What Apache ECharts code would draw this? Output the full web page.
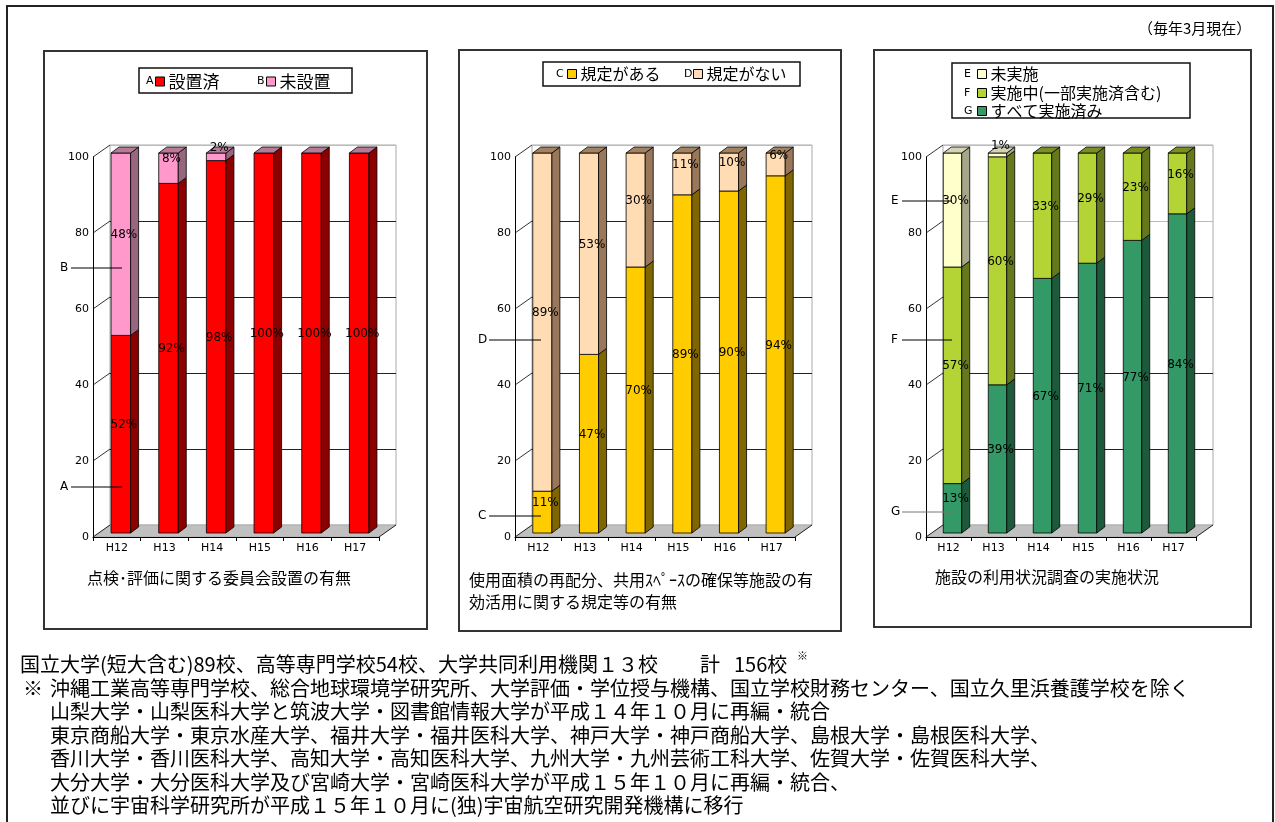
<!DOCTYPE html>
<html>
<head>
<meta charset="utf-8">
<script src="https://cdn.jsdelivr.net/npm/echarts@6/dist/echarts.min.js"></script>
<style>
  html, body { margin: 0; padding: 0; background: #fff; }
  #main { width: 1275px; height: 822px; }
</style>
</head>
<body>
<div id="main"></div>
<script>
// 年度（横軸）と目盛
var years = ['H12', 'H13', 'H14', 'H15', 'H16', 'H17'];
var yTicks = [0, 20, 40, 60, 80, 100];

// 点検・評価に関する委員会設置の有無
var setUp = [52, 92, 98, 100, 100, 100];      // A 設置済
var notSetUp = [48, 8, 2, 0, 0, 0];           // B 未設置

// 使用面積の再配分…規定等の有無
var hasRule = [11, 47, 70, 89, 90, 94];       // C 規定がある
var noRule = [89, 53, 30, 11, 10, 6];         // D 規定がない

// 施設の利用状況調査の実施状況
var allDone = [13, 39, 67, 71, 77, 84];       // G すべて実施済み
var inProgress = [57, 60, 33, 29, 23, 16];    // F 実施中(一部実施済含む)
var notDone = [30, 1, null, null, null, null];// E 未実施

var footLines = [
  '国立大学(短大含む)89校、高等専門学校54校、大学共同利用機関１３校',
  '沖縄工業高等専門学校、総合地球環境学研究所、大学評価・学位授与機構、国立学校財務センター、国立久里浜養護学校を除く',
  '山梨大学・山梨医科大学と筑波大学・図書館情報大学が平成１４年１０月に再編・統合',
  '東京商船大学・東京水産大学、福井大学・福井医科大学、神戸大学・神戸商船大学、島根大学・島根医科大学、',
  '香川大学・香川医科大学、高知大学・高知医科大学、九州大学・九州芸術工科大学、佐賀大学・佐賀医科大学、',
  '大分大学・大分医科大学及び宮崎大学・宮崎医科大学が平成１５年１０月に再編・統合、',
  '並びに宇宙科学研究所が平成１５年１０月に(独)宇宙航空研究開発機構に移行'
];

var FONT = '"Noto Sans CJK JP", sans-serif';
var NUMFONT = '"DejaVu Sans", sans-serif';
var TOP = 157, H = 380;         // 前面の軸
var DX = 17, DY = -12;          // 奥の壁までのずれ
var OFF = 4, BDX = 8, BDY = -6; // 棒の位置ずれと厚み

var panels = [
  {
    left: 93, width: 286, frame: [44, 51, 383, 578], legendSize: 17,
    split: ['#777', '#222', '#222', '#222', '#222', '#bbb'],
    series: [
      {name: '設置済', letter: 'A', data: setUp, color: '#ff0000', side: '#8c0000', top: '#a00000'},
      {name: '未設置', letter: 'B', data: notSetUp, color: '#ff99cc', side: '#99667f', top: '#b77a99'}
    ],
    box: [139, 68, 213, 25],
    legendAt: [[146, 155, 81], [257, 266, 81]],
    callouts: [['B', 60, 268, 122], ['A', 60, 487, 122]],
    title: ['点検･評価に関する委員会設置の有無'], titleAt: [87, 578]
  },
  {
    left: 515, width: 280, frame: [459, 50, 382, 581], legendSize: 16,
    split: ['#777', '#222', '#222', '#222', '#222', '#bbb'],
    series: [
      {name: '規定がある', letter: 'C', data: hasRule, color: '#ffcc00', side: '#806600', top: '#997a00'},
      {name: '規定がない', letter: 'D', data: noRule, color: '#ffdcb4', side: '#99775a', top: '#a5825f'}
    ],
    box: [543, 62, 257, 24],
    legendAt: [[556, 567, 74], [684, 693, 74]],
    callouts: [['D', 478, 340, 541], ['C', 478, 516, 541]],
    title: ['使用面積の再配分、共用ｽﾍﾟｰｽの確保等施設の有', '効活用に関する規定等の有無'], titleAt: [469, 580]
  },
  {
    left: 926, width: 270, frame: [874, 50, 377, 577], legendSize: 16,
    split: ['#777', '#222', '#222', '#222', '#bbb', '#bbb'],
    series: [
      {name: 'すべて実施済み', letter: 'G', data: allDone, color: '#339966', side: '#1d5a3b', top: '#24704a'},
      {name: '実施中(一部実施済含む)', letter: 'F', data: inProgress, color: '#b4d334', side: '#66781c', top: '#7a8f22'},
      {name: '未実施', letter: 'E', data: notDone, color: '#ffffcc', side: '#a6a68a', top: '#d4d4b0'}
    ],
    box: [952, 63, 238, 55],
    legendAt: [[964, 977, 111], [964, 977, 93], [964, 977, 74]],
    callouts: [['E', 891, 201, 952], ['F', 891, 340, 952], ['G', 891, 512, 952]],
    title: ['施設の利用状況調査の実施状況'], titleAt: [935, 577]
  }
];

function renderBar(s) {
  return function (params, api) {
    var v = api.value(3);
    if (v < 0) return null;
    var p0 = api.coord([api.value(0), api.value(1)]);
    var p1 = api.coord([api.value(0), api.value(2)]);
    var w = api.size([1, 0])[0] * 0.41;
    var x0 = p0[0] - w / 2 + OFF, x1 = x0 + w;
    var yb = p0[1] - OFF, yt = p1[1] - OFF;
    var kids = [];
    if (yb - yt > 0) {
      kids.push({type: 'rect', shape: {x: x0, y: yt, width: w, height: yb - yt},
        style: {fill: s.color, stroke: '#000', lineWidth: 0.8}});
      kids.push({type: 'polygon', shape: {points: [[x1, yb], [x1, yt], [x1 + BDX, yt + BDY], [x1 + BDX, yb + BDY]]},
        style: {fill: s.side, stroke: '#000', lineWidth: 0.8}});
    }
    if (api.value(4)) {
      kids.push({type: 'polygon', shape: {points: [[x0, yt], [x1, yt], [x1 + BDX, yt + BDY], [x0 + BDX, yt + BDY]]},
        style: {fill: s.top, stroke: '#000', lineWidth: 0.8}});
    }
    if (v > 0) {
      kids.push({type: 'text', z2: 20, x: (x0 + x1) / 2 + 3, y: (yb + yt) / 2 - 9,
        style: {text: v + '%', font: '12px ' + NUMFONT, fill: '#000', textAlign: 'center', textVerticalAlign: 'middle'}});
    }
    return {type: 'group', children: kids};
  };
}

var grids = [], xAxes = [], yAxes = [], series = [], legends = [], graphics = [];

// 外枠と注記
graphics.push({type: 'rect', z: 0, shape: {x: 7, y: 6, width: 1266, height: 840},
  style: {fill: 'none', stroke: '#222', lineWidth: 2}});
graphics.push({type: 'text', z: 5, x: 1138, y: 28,
  style: {text: '（毎年3月現在）', font: '15px ' + FONT, fill: '#000', textVerticalAlign: 'middle'}});

panels.forEach(function (p, i) {
  var gi = grids.length;
  // 前面
  grids.push({left: p.left, top: TOP, width: p.width, height: H});
  // 奥の壁
  grids.push({left: p.left + DX, top: TOP + DY, width: p.width, height: H,
    show: true, borderColor: '#aaa', borderWidth: 1, backgroundColor: 'transparent'});

  xAxes.push({gridIndex: gi, type: 'category', data: years, z: 6,
    axisLine: {lineStyle: {color: '#000', width: 1}},
    axisTick: {show: true, length: 4, lineStyle: {color: '#000'}},
    axisLabel: {fontFamily: NUMFONT, fontSize: 11, color: '#000', margin: 6}});
  xAxes.push({gridIndex: gi + 1, type: 'category', data: years, show: false});

  yAxes.push({gridIndex: gi, type: 'value', min: 0, max: 100, interval: 20, z: 6,
    axisLine: {show: true, lineStyle: {color: '#000', width: 1}},
    axisTick: {show: false},
    splitLine: {show: false},
    axisLabel: {fontFamily: NUMFONT, fontSize: 11, color: '#000', margin: 4}});
  yAxes.push({gridIndex: gi + 1, type: 'value', min: 0, max: 100, interval: 20,
    axisLine: {show: false}, axisTick: {show: false}, axisLabel: {show: false},
    splitLine: {show: true, lineStyle: {color: p.split, width: 1}}});

  // 積み上げ
  var base = years.map(function () { return 0; });
  var lastIdx = years.map(function (y, j) {
    var k = -1;
    p.series.forEach(function (s, n) { if (s.data[j] != null) k = n; });
    return k;
  });
  p.series.forEach(function (s, k) {
    var items = s.data.map(function (v, j) {
      var lo = base[j];
      var hi = v == null ? lo : lo + v;
      base[j] = hi;
      return [j, lo, hi, v == null ? -1 : v, lastIdx[j] === k ? 1 : 0];
    });
    series.push({
      type: 'custom', name: s.name, xAxisIndex: gi, yAxisIndex: gi, z: 3,
      itemStyle: {color: s.color},
      renderItem: renderBar(s),
      data: items
    });
  });

  // 凡例
  p.series.forEach(function (s, k) {
    var at = p.legendAt[k];
    legends.push({
      data: [s.name], left: at[1], top: at[2] - 8, padding: 0, icon: 'rect',
      itemWidth: 9, itemHeight: 9, selectedMode: false,
      itemStyle: {borderColor: '#000', borderWidth: 1},
      textStyle: {fontFamily: FONT, fontSize: p.legendSize, lineHeight: 16, color: '#000', padding: [0, 0, 0, -1]}
    });
    graphics.push({type: 'text', z: 5, x: at[0], y: at[2],
      style: {text: s.letter, font: '11px ' + NUMFONT, fill: '#000', textVerticalAlign: 'middle'}});
  });
  graphics.push({type: 'rect', z: 1, shape: {x: p.box[0], y: p.box[1], width: p.box[2], height: p.box[3]},
    style: {fill: 'none', stroke: '#111', lineWidth: 1.5}});

  // パネル枠
  graphics.push({type: 'rect', z: 0, shape: {x: p.frame[0], y: p.frame[1], width: p.frame[2], height: p.frame[3]},
    style: {fill: 'none', stroke: '#333', lineWidth: 2}});

  // 床
  var yF = TOP + H, xL = p.left, xR = p.left + p.width;
  graphics.push({type: 'polygon', z: 1,
    shape: {points: [[xL, yF], [xR, yF], [xR + DX, yF + DY], [xL + DX, yF + DY]]},
    style: {fill: '#c0c0c0', stroke: '#999', lineWidth: 0.5}});
  graphics.push({type: 'line', z: 2, shape: {x1: xR, y1: yF, x2: xR + DX, y2: yF + DY},
    style: {stroke: '#000', lineWidth: 0.8}});
  // 左の壁の斜め目盛
  yTicks.forEach(function (t) {
    var y = TOP + H * (1 - t / 100);
    graphics.push({type: 'line', z: 2, shape: {x1: xL, y1: y, x2: xL + DX, y2: y + DY},
      style: {stroke: '#000', lineWidth: 0.8}});
  });

  // 系列名の引き出し線
  p.callouts.forEach(function (c) {
    graphics.push({type: 'text', z: 10, x: c[1], y: c[2],
      style: {text: c[0], font: '12px ' + NUMFONT, fill: '#000', textVerticalAlign: 'middle'}});
    graphics.push({type: 'line', z: 10, shape: {x1: c[1] + 11, y1: c[2], x2: c[3], y2: c[2]},
      style: {stroke: c[0] === 'G' ? '#777' : '#000', lineWidth: 1}});
  });

  // 下のタイトル
  p.title.forEach(function (t, n) {
    graphics.push({type: 'text', z: 5, x: p.titleAt[0], y: p.titleAt[1] + n * 22,
      style: {text: t, font: '16px ' + FONT, fill: '#000', textVerticalAlign: 'middle'}});
  });
});

// 脚注
var footY = [664, 688, 711, 735, 758, 782, 805];
footLines.forEach(function (t, n) {
  graphics.push({type: 'text', z: 5, x: n === 0 ? 20 : 50, y: footY[n],
    style: {text: t, font: '20px ' + FONT, fill: '#000', textVerticalAlign: 'middle'}});
});
graphics.push({type: 'text', z: 5, x: 700, y: footY[0],
  style: {text: '計', font: '20px ' + FONT, fill: '#000', textVerticalAlign: 'middle'}});
graphics.push({type: 'text', z: 5, x: 734, y: footY[0],
  style: {text: '156校', font: '20px ' + FONT, fill: '#000', textVerticalAlign: 'middle'}});
graphics.push({type: 'text', z: 5, x: 23, y: footY[1],
  style: {text: '※', font: '20px ' + FONT, fill: '#000', textVerticalAlign: 'middle'}});
graphics.push({type: 'text', z: 5, x: 797, y: 656,
  style: {text: '※', font: '11px ' + FONT, fill: '#000', textVerticalAlign: 'middle'}});

var chart = echarts.init(document.getElementById('main'));
chart.setOption({
  backgroundColor: '#fff',
  animation: false,
  grid: grids,
  xAxis: xAxes,
  yAxis: yAxes,
  legend: legends,
  series: series,
  graphic: graphics
});
</script>
</body>
</html>
